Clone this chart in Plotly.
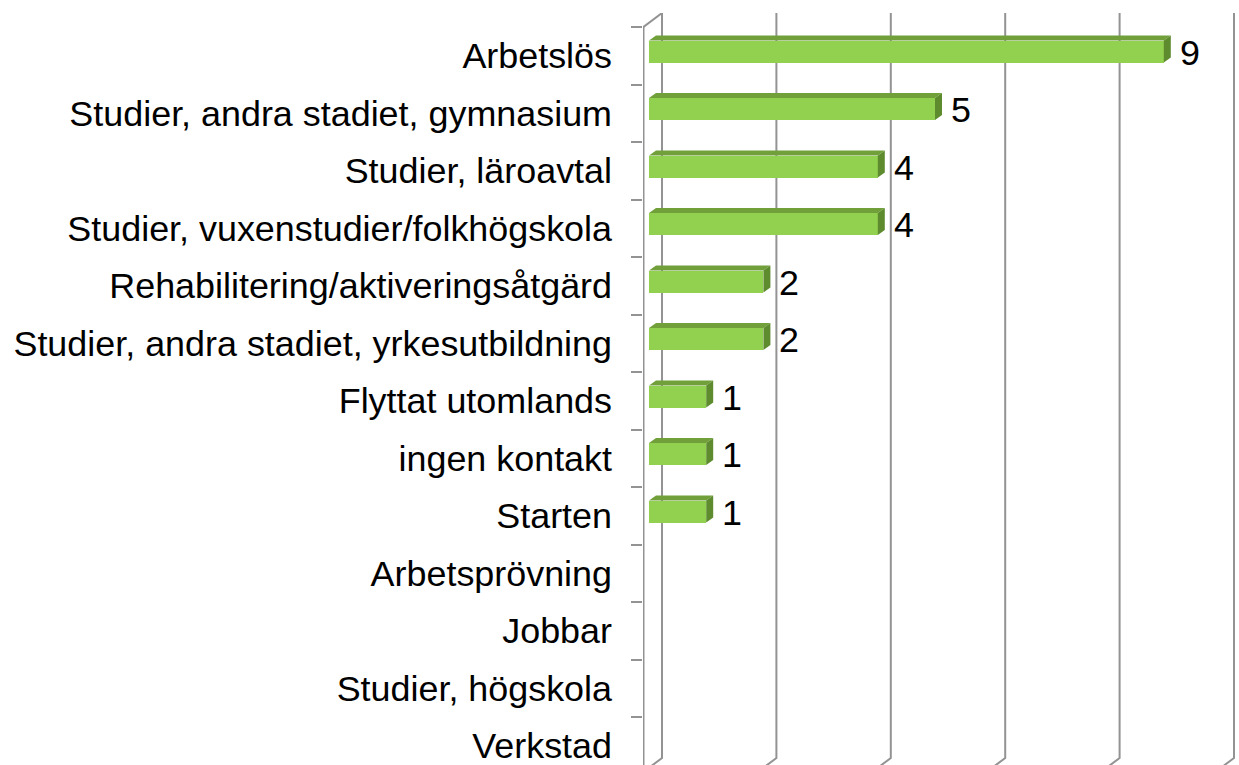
import plotly.graph_objects as go

# ---- data ----
categories = [
    "Arbetslös",
    "Studier, andra stadiet, gymnasium",
    "Studier, läroavtal",
    "Studier, vuxenstudier/folkhögskola",
    "Rehabilitering/aktiveringsåtgärd",
    "Studier, andra stadiet, yrkesutbildning",
    "Flyttat utomlands",
    "ingen kontakt",
    "Starten",
    "Arbetsprövning",
    "Jobbar",
    "Studier, högskola",
    "Verkstad",
]
values = [9, 5, 4, 4, 2, 2, 1, 1, 1, 0, 0, 0, 0]
x_ticks = [0, 2, 4, 6, 8, 10]

# ---- layout constants (pixels) ----
W, H = 1239, 765
PX_X = 57.2          # pixels per value unit
PX_Y = 57.5          # pixels per category row
X0_PX = 649          # pixel of value 0 (front plane)
ROW0_PX = 55.75      # pixel centre of first row (front plane)
LEFT_PX, TOP_PX = 643, 13
DEPTH_DX, DEPTH_DY = 13, 14      # back-wall offset
BAR_DX, BAR_DY = 7, 5            # bar depth offset
BAR_H = 22
BAR_SHIFT = 4.25                 # bar raised from row centre

FONT = "Liberation Sans, Arial, sans-serif"
FS = 35.9
GRID = "#939393"
FRONT = "#92D050"
TOP = "#71A03A"
SIDE = "#5E8B2E"

xr = [(LEFT_PX - X0_PX) / PX_X, (W - X0_PX) / PX_X]
yr = [(H - ROW0_PX) / PX_Y, (TOP_PX - ROW0_PX) / PX_Y]   # reversed

dx = DEPTH_DX / PX_X
dy = DEPTH_DY / PX_Y
bdx = BAR_DX / PX_X
bdy = BAR_DY / PX_Y
bw = BAR_H / PX_Y
bshift = BAR_SHIFT / PX_Y

idx = list(range(len(categories)))

fig = go.Figure()
fig.add_trace(go.Bar(
    x=values, y=idx, orientation="h",
    width=bw, offset=-bshift - bw / 2,
    marker=dict(color=FRONT, line=dict(width=0)),
    hoverinfo="skip", showlegend=False,
))

shapes = []
# back-wall gridlines
for t in x_ticks:
    xb = t + dx
    y_bot = (758 - ROW0_PX) / PX_Y
    shapes.append(dict(
        type="path", xref="x", yref="y", layer="below",
        path=f"M {xb},{yr[1]} L {xb},{y_bot} L {xb - 12 / PX_X},{y_bot + 9 / PX_Y}",
        line=dict(color=GRID, width=2),
    ))
# front axis line + top diagonal
xa = xr[0] + 0.5 / PX_X
shapes.append(dict(type="line", xref="x", yref="y", x0=xa, x1=xa, y0=-0.5, y1=yr[0],
                   line=dict(color=GRID, width=2), layer="below"))
shapes.append(dict(type="line", xref="x", yref="y", x0=xa, x1=dx, y0=-0.5, y1=yr[1],
                   line=dict(color=GRID, width=2), layer="below"))

# 3D faces of bars
for i, v in zip(idx, values):
    if v <= 0:
        continue
    yt = i - bshift - bw / 2
    yb = i - bshift + bw / 2
    shapes.append(dict(
        type="path", xref="x", yref="y", layer="above",
        path=f"M 0,{yt} L {v},{yt} L {v + bdx},{yt - bdy} L {bdx},{yt - bdy} Z",
        fillcolor=TOP, line=dict(width=0),
    ))
    shapes.append(dict(
        type="path", xref="x", yref="y", layer="above",
        path=f"M {v},{yt} L {v + bdx},{yt - bdy} L {v + bdx},{yb - bdy} L {v},{yb} Z",
        fillcolor=SIDE, line=dict(width=0),
    ))

annotations = []
for i, v in zip(idx, values):
    if v <= 0:
        continue
    annotations.append(dict(
        x=v, y=i, xref="x", yref="y", text=str(v), showarrow=False,
        xanchor="left", yanchor="middle", xshift=14, yshift=3,
        font=dict(family=FONT, size=FS, color="#000000"),
    ))

fig.update_layout(
    width=W, height=H,
    margin=dict(l=LEFT_PX, r=0, t=TOP_PX, b=0, pad=0),
    paper_bgcolor="white", plot_bgcolor="white",
    shapes=shapes, annotations=annotations,
    bargap=0,
    xaxis=dict(range=xr, showgrid=False, zeroline=False, showticklabels=False,
               showline=False, ticks=""),
    yaxis=dict(range=yr, tickmode="array", tickvals=idx, ticktext=categories,
               showgrid=False, zeroline=False, showline=False, ticks="",
               ticklabelstandoff=30, ticklabeloverflow="allow",
               tickfont=dict(family=FONT, size=FS, color="#000000"),
               minor=dict(tickmode="array", tickvals=[k - 0.5 for k in range(len(categories) + 1)],
                          ticks="outside", ticklen=11, tickwidth=2, tickcolor=GRID,
                          showgrid=False)),
)

fig.write_html("out.html")
